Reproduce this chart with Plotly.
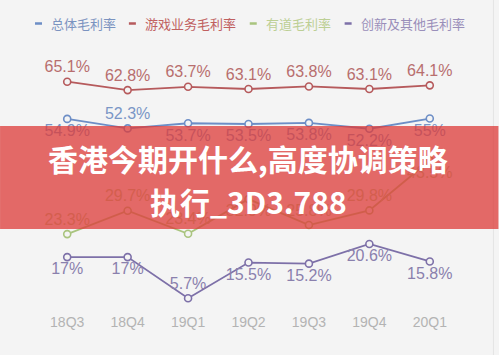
import plotly.graph_objects as go

quarters = ["18Q3", "18Q4", "19Q1", "19Q2", "19Q3", "19Q4", "20Q1"]
total_margin = [54.9, 52.3, 53.7, 53.5, 53.8, 52.2, 55.0]
game_margin = [65.1, 62.8, 63.7, 63.1, 63.8, 63.1, 64.1]
youdao_margin = [23.3, 29.7, 23.4, 32.9, 25.8, 29.8, 43.5]
other_margin = [17.0, 17.0, 5.7, 15.5, 15.2, 20.6, 15.8]

series_names = ["总体毛利率", "游戏业务毛利率", "有道毛利率", "创新及其他毛利率"]
overlay_line1 = "香港今期开什么,高度协调策略"
overlay_line2 = "执行_3D3.788"

W, H = 499, 355
L, R, T, B = 37, 38.5, 60, 43
PW, PH = W - L - R, H - T - B
BG = "#f4f4f4"


def px(x):
    return (x - L) / PW


def py(y):
    return (H - B - y) / PH


def fmt(v):
    return (f"{v:g}") + "%"


# y range chosen so the plot area maps 65.1 -> ~82px and 5.7 -> ~298px
Y_LO = 5.7 - (H - B - 298.3) / 3.646
Y_HI = 65.1 + (81.7 - T) / 3.646

line_colors = ["#6d8ec6", "#b65a5c", "#a9c47e", "#7d70a8"]
text_colors = ["#7a96c6", "#b86e6e", "#b3c98c", "#8a80ad"]

positions = [
    ["bottom center", "top center", "bottom center", "bottom center", "bottom center", "bottom center", "bottom center"],
    ["top center"] * 7,
    ["top center", "top center", "top center", "bottom center", "top center", "top center", "bottom center"],
    ["bottom center", "bottom center", "top center", "bottom center", "bottom center", "bottom center", "bottom center"],
]
data = [total_margin, game_margin, youdao_margin, other_margin]

fig = go.Figure()
for name, vals, lc, tc, pos in zip(series_names, data, line_colors, text_colors, positions):
    fig.add_trace(go.Scatter(
        x=quarters, y=vals, name=name, mode="lines+markers+text",
        line=dict(color=lc, width=1.8),
        marker=dict(symbol="circle", size=7, color=BG, line=dict(color=lc, width=1.6)),
        text=[fmt(v) for v in vals], textposition=pos,
        textfont=dict(family="Liberation Sans, Arial", size=16, color=tc),
        showlegend=False, cliponaxis=False,
    ))

shapes = []
annotations = []
# legend
legend_items = [
    (35, 42, 49, "#7b93c0"),
    (129, 136, 143, "#c0605f"),
    (250, 257, 264, "#bccf94"),
    (345, 352, 359, "#9a8fba"),
]
for (d0, d1, tx, col), name, lc in zip(legend_items, series_names, line_colors):
    shapes.append(dict(type="line", xref="paper", yref="paper",
                       x0=px(d0), x1=px(d1), y0=py(23.5), y1=py(23.5),
                       line=dict(color=lc, width=2.5)))
    annotations.append(dict(xref="paper", yref="paper", x=px(tx), y=py(23.5),
                            xanchor="left", yanchor="middle", showarrow=False,
                            text=name, font=dict(family="Noto Sans CJK SC", size=13, color=col)))

# right border
shapes.append(dict(type="line", xref="paper", yref="paper", x0=px(494), x1=px(494),
                   y0=py(0), y1=py(H), line=dict(color="#e4e4e4", width=1)))

# overlay banner
shapes.append(dict(type="rect", xref="paper", yref="paper", layer="above",
                   x0=px(0), x1=px(W), y0=py(229), y1=py(126),
                   fillcolor="rgba(221,60,58,0.76)", line=dict(width=0)))
annotations.append(dict(xref="paper", yref="paper", x=px(248.5), y=py(158),
                        xanchor="center", yanchor="middle", showarrow=False,
                        text="<b>" + overlay_line1 + "</b>",
                        font=dict(family="Noto Sans CJK SC", size=30, color="white")))
annotations.append(dict(xref="paper", yref="paper", x=px(249), y=py(201),
                        xanchor="center", yanchor="middle", showarrow=False,
                        text="<b>" + overlay_line2 + "</b>",
                        font=dict(family="Noto Sans CJK SC", size=30, color="white")))

fig.update_layout(
    width=W, height=H,
    margin=dict(l=L, r=R, t=T, b=B),
    paper_bgcolor=BG, plot_bgcolor=BG,
    xaxis=dict(type="category", categoryorder="array", categoryarray=quarters,
               range=[-0.5, 6.5], showgrid=False, zeroline=False, showline=False,
               ticks="", tickfont=dict(family="Liberation Sans, Arial", size=14, color="#b3b3b3")),
    yaxis=dict(range=[Y_LO, Y_HI], visible=False, showgrid=False, zeroline=False),
    shapes=shapes, annotations=annotations,
)

fig.write_html(
    "out.html",
    config={"displayModeBar": False},
    post_script="document.body.style.margin='0';document.body.style.padding='0';"
                "document.body.style.background='#f4f4f4';document.body.style.overflow='hidden';",
)
